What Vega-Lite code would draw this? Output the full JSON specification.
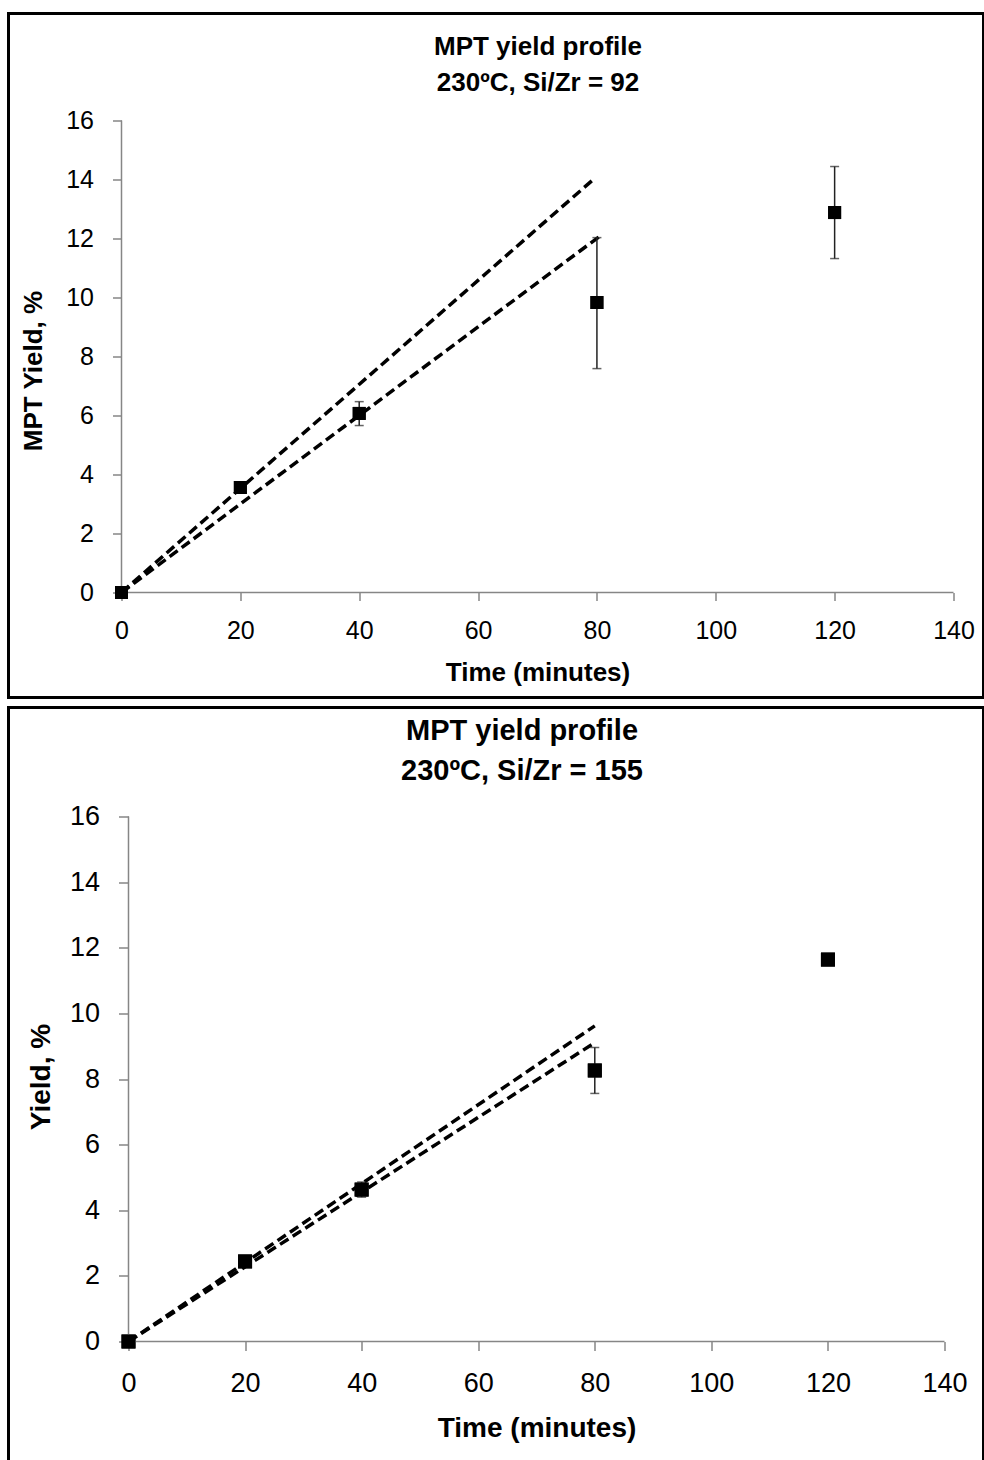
{
  "$schema": "https://vega.github.io/schema/vega-lite/v6.json",
  "padding": {"left": 6.5, "top": 11.5, "right": 0, "bottom": 0},
  "background": "white",
  "spacing": 6,
  "datasets": {
    "pts92": [
      {"time": 0, "yield": 0, "lo": null, "hi": null},
      {"time": 20, "yield": 3.56, "lo": null, "hi": null},
      {"time": 40, "yield": 6.07, "lo": 5.66, "hi": 6.47},
      {"time": 80, "yield": 9.83, "lo": 7.59, "hi": 12.03},
      {"time": 120, "yield": 12.88, "lo": 11.32, "hi": 14.44}
    ],
    "fit92": [
      {"time": 0, "yield": 0, "fit": "a"},
      {"time": 79.5, "yield": 14.02, "fit": "a"},
      {"time": 0, "yield": 0, "fit": "b"},
      {"time": 80.3, "yield": 12.05, "fit": "b"}
    ],
    "pts155": [
      {"time": 0, "yield": 0, "lo": null, "hi": null},
      {"time": 20, "yield": 2.44, "lo": null, "hi": null},
      {"time": 40, "yield": 4.63, "lo": 4.4, "hi": 4.86},
      {"time": 80, "yield": 8.26, "lo": 7.56, "hi": 8.96},
      {"time": 120, "yield": 11.64, "lo": null, "hi": null}
    ],
    "fit155": [
      {"time": 0, "yield": 0, "fit": "a"},
      {"time": 80, "yield": 9.62, "fit": "a"},
      {"time": 0, "yield": 0, "fit": "b"},
      {"time": 79.5, "yield": 9.05, "fit": "b"}
    ]
  },
  "vconcat": [
    {
      "width": 975,
      "height": 684,
      "title": {
        "text": ["MPT yield profile", "230ºC, Si/Zr = 92"],
        "font": "Liberation Sans",
        "fontSize": 26,
        "fontWeight": "bold",
        "color": "black",
        "lineHeight": 36,
        "anchor": "middle",
        "frame": "group",
        "dx": 42,
        "offset": -82
      },
      "layer": [
        {
          "data": {"name": "pts92"},
          "mark": {"type": "point", "shape": "square", "filled": true, "color": "black", "size": 169, "opacity": 1},
          "encoding": {
            "x": {
              "field": "time", "type": "quantitative",
              "scale": {"domain": [-19.014, 145.05], "nice": false, "zero": false},
              "axis": {
                "orient": "bottom", "offset": -105, "values": [0, 20, 40, 60, 80, 100, 120, 140],
                "domain": false, "grid": false, "ticks": true, "tickColor": "#868686", "tickWidth": 1.5, "tickSize": 8,
                "labelFont": "Liberation Sans", "labelFontSize": 25, "labelColor": "black", "labelPadding": 18,
                "title": "Time (minutes)", "titleFont": "Liberation Sans", "titleFontSize": 26, "titleFontWeight": "bold",
                "titleColor": "black", "titleX": 529, "titlePadding": 16
              }
            },
            "y": {
              "field": "yield", "type": "quantitative",
              "scale": {"domain": [-3.559, 19.627], "nice": false, "zero": false},
              "axis": {
                "orient": "left", "offset": -113, "values": [0, 2, 4, 6, 8, 10, 12, 14, 16],
                "domain": false, "grid": false, "ticks": true, "tickColor": "#868686", "tickWidth": 1.5, "tickSize": 9,
                "labelFont": "Liberation Sans", "labelFontSize": 25, "labelColor": "black", "labelPadding": 19,
                "title": "MPT Yield, %", "titleFont": "Liberation Sans", "titleFontSize": 26, "titleFontWeight": "bold",
                "titleColor": "black", "titleY": 357, "titlePadding": 19
              }
            }
          }
        },
        {
          "data": {"values": [{}]},
          "mark": {"type": "rule", "color": "#868686", "strokeWidth": 1.5},
          "encoding": {
            "x": {"datum": 0, "type": "quantitative"},
            "x2": {"datum": 140},
            "y": {"datum": 0, "type": "quantitative"}
          }
        },
        {
          "data": {"values": [{}]},
          "mark": {"type": "rule", "color": "#868686", "strokeWidth": 1.5},
          "encoding": {
            "x": {"datum": 0, "type": "quantitative"},
            "y": {"datum": 0, "type": "quantitative"},
            "y2": {"datum": 16}
          }
        },
        {
          "data": {"name": "fit92"},
          "mark": {"type": "line", "color": "black", "strokeWidth": 3.5, "strokeDash": [10, 5]},
          "encoding": {
            "x": {"field": "time", "type": "quantitative"},
            "y": {"field": "yield", "type": "quantitative"},
            "detail": {"field": "fit"}
          }
        },
        {
          "data": {"name": "pts92"},
          "transform": [{"filter": "datum.lo != null"}],
          "mark": {"type": "rule", "color": "#222222", "strokeWidth": 1.5},
          "encoding": {
            "x": {"field": "time", "type": "quantitative"},
            "y": {"field": "lo", "type": "quantitative"},
            "y2": {"field": "hi"}
          }
        },
        {
          "data": {"name": "pts92"},
          "transform": [{"filter": "datum.lo != null"}, {"fold": ["lo", "hi"], "as": ["end", "val"]}],
          "mark": {"type": "tick", "orient": "horizontal", "color": "#222222", "size": 9, "thickness": 1.5},
          "encoding": {
            "x": {"field": "time", "type": "quantitative"},
            "y": {"field": "val", "type": "quantitative"}
          }
        },
        {
          "data": {"name": "pts92"},
          "mark": {"type": "point", "shape": "square", "filled": true, "color": "black", "size": 169, "opacity": 1},
          "encoding": {
            "x": {"field": "time", "type": "quantitative"},
            "y": {"field": "yield", "type": "quantitative"}
          }
        }
      ]
    },
    {
      "width": 975,
      "height": 754,
      "title": {
        "text": ["MPT yield profile", "230ºC, Si/Zr = 155"],
        "font": "Liberation Sans",
        "fontSize": 29,
        "fontWeight": "bold",
        "color": "black",
        "lineHeight": 40,
        "anchor": "middle",
        "frame": "group",
        "dx": 26,
        "offset": -78
      },
      "layer": [
        {
          "data": {"name": "pts155"},
          "mark": {"type": "point", "shape": "square", "filled": true, "color": "black", "size": 196, "opacity": 1},
          "encoding": {
            "x": {
              "field": "time", "type": "quantitative",
              "scale": {"domain": [-20.588, 146.69], "nice": false, "zero": false},
              "axis": {
                "orient": "bottom", "offset": -120, "values": [0, 20, 40, 60, 80, 100, 120, 140],
                "domain": false, "grid": false, "ticks": true, "tickColor": "#868686", "tickWidth": 1.5, "tickSize": 9,
                "labelFont": "Liberation Sans", "labelFontSize": 27, "labelColor": "black", "labelPadding": 20,
                "title": "Time (minutes)", "titleFont": "Liberation Sans", "titleFontSize": 28, "titleFontWeight": "bold",
                "titleColor": "black", "titleX": 528, "titlePadding": 18
              }
            },
            "y": {
              "field": "yield", "type": "quantitative",
              "scale": {"domain": [-3.657, 19.322], "nice": false, "zero": false},
              "axis": {
                "orient": "left", "offset": -120, "values": [0, 2, 4, 6, 8, 10, 12, 14, 16],
                "domain": false, "grid": false, "ticks": true, "tickColor": "#868686", "tickWidth": 1.5, "tickSize": 10,
                "labelFont": "Liberation Sans", "labelFontSize": 27, "labelColor": "black", "labelPadding": 19,
                "title": "Yield, %", "titleFont": "Liberation Sans", "titleFontSize": 28, "titleFontWeight": "bold",
                "titleColor": "black", "titleY": 369, "titlePadding": 14
              }
            }
          }
        },
        {
          "data": {"values": [{}]},
          "mark": {"type": "rule", "color": "#868686", "strokeWidth": 1.5},
          "encoding": {
            "x": {"datum": 0, "type": "quantitative"},
            "x2": {"datum": 140},
            "y": {"datum": 0, "type": "quantitative"}
          }
        },
        {
          "data": {"values": [{}]},
          "mark": {"type": "rule", "color": "#868686", "strokeWidth": 1.5},
          "encoding": {
            "x": {"datum": 0, "type": "quantitative"},
            "y": {"datum": 0, "type": "quantitative"},
            "y2": {"datum": 16}
          }
        },
        {
          "data": {"name": "fit155"},
          "mark": {"type": "line", "color": "black", "strokeWidth": 3.5, "strokeDash": [10, 5]},
          "encoding": {
            "x": {"field": "time", "type": "quantitative"},
            "y": {"field": "yield", "type": "quantitative"},
            "detail": {"field": "fit"}
          }
        },
        {
          "data": {"name": "pts155"},
          "transform": [{"filter": "datum.lo != null"}],
          "mark": {"type": "rule", "color": "#222222", "strokeWidth": 1.5},
          "encoding": {
            "x": {"field": "time", "type": "quantitative"},
            "y": {"field": "lo", "type": "quantitative"},
            "y2": {"field": "hi"}
          }
        },
        {
          "data": {"name": "pts155"},
          "transform": [{"filter": "datum.lo != null"}, {"fold": ["lo", "hi"], "as": ["end", "val"]}],
          "mark": {"type": "tick", "orient": "horizontal", "color": "#222222", "size": 9, "thickness": 1.5},
          "encoding": {
            "x": {"field": "time", "type": "quantitative"},
            "y": {"field": "val", "type": "quantitative"}
          }
        },
        {
          "data": {"name": "pts155"},
          "mark": {"type": "point", "shape": "square", "filled": true, "color": "black", "size": 196, "opacity": 1},
          "encoding": {
            "x": {"field": "time", "type": "quantitative"},
            "y": {"field": "yield", "type": "quantitative"}
          }
        }
      ]
    }
  ],
  "config": {
    "view": {"stroke": "black", "strokeWidth": 3},
    "concat": {"spacing": 6}
  }
}
